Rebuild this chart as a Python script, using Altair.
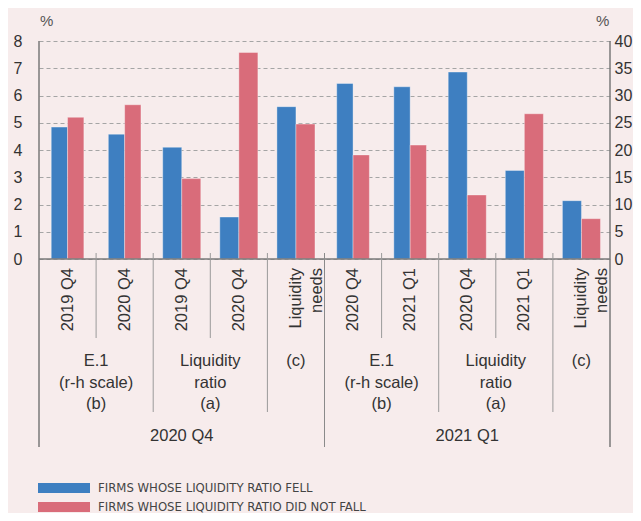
import altair as alt
import pandas as pd

# ---------------- data ----------------
ids = [f"g{i}" for i in range(10)]
sub_labels = ["2019 Q4", "2020 Q4", "2019 Q4", "2020 Q4", "Liquidity\nneeds",
              "2020 Q4", "2021 Q1", "2020 Q4", "2021 Q1", "Liquidity\nneeds"]
right_scale = [True, True, False, False, False, True, True, False, False, False]
fell = [24.2, 22.9, 4.1, 1.54, 5.59, 32.2, 31.6, 6.86, 3.25, 2.14]
not_fell = [26.0, 28.3, 2.95, 7.58, 4.95, 19.1, 20.9, 2.35, 5.33, 1.48]
series = ["FIRMS WHOSE LIQUIDITY RATIO FELL", "FIRMS WHOSE LIQUIDITY RATIO DID NOT FALL"]
colors = ["#3e7fc1", "#d96c7a"]

# category labels spanning two groups (placed at boundary = start of group id)
span_cat_text = ["E.1\n(r-h scale)\n(b)", "Liquidity\nratio\n(a)", "E.1\n(r-h scale)\n(b)", "Liquidity\nratio\n(a)"]
span_cat_at = ["g1", "g3", "g6", "g8"]
single_cat_text = ["(c)", "(c)"]
single_cat_at = ["g4", "g9"]
period_text = ["2020 Q4", "2021 Q1"]
period_at = ["g2", "g7"]
short_sep = ["g1", "g3", "g6", "g8"]
mid_sep = ["g2", "g4", "g7", "g9"]
long_sep = ["g5"]

FONT = "Liberation Sans"
NARROW = "Liberation Sans Narrow, Arial Narrow, DejaVu Sans Condensed, sans-serif"
TC = "#333333"
W, H = 571, 218

rows = []
for i, gid in enumerate(ids):
    rows.append({"id": gid, "series": series[0], "value": fell[i], "right": right_scale[i]})
    rows.append({"id": gid, "series": series[1], "value": not_fell[i], "right": right_scale[i]})
bars = pd.DataFrame(rows)
bars_r = bars[bars["right"]].drop(columns="right")
bars_l = bars[~bars["right"]].drop(columns="right")
groups = pd.DataFrame({"id": ids, "sub": sub_labels})
legend_df = pd.DataFrame({"series": series})


def X(bp=None):
    kw = {}
    if bp is not None:
        kw["bandPosition"] = bp
    return alt.X("id:N", scale=alt.Scale(domain=ids, paddingInner=0, paddingOuter=0), axis=None, **kw)


color = alt.Color("series:N", scale=alt.Scale(domain=series, range=colors), legend=None)

bar_mark = dict(stroke="white", strokeOpacity=0.35, strokeWidth=1)

bars_right = alt.Chart(bars_r).mark_bar(**bar_mark).encode(
    x=X(),
    xOffset=alt.XOffset("series:N", scale=alt.Scale(domain=series, paddingInner=0, paddingOuter=0.75)),
    y=alt.Y("value:Q", scale=alt.Scale(domain=[0, 40]),
            axis=alt.Axis(orient="right", values=list(range(0, 41, 5)), grid=False, domain=False,
                          ticks=False, labelPadding=4, title=None, labelFont=FONT,
                          labelFontSize=16, labelColor=TC)),
    color=color,
)

bars_left = alt.Chart(bars_l).mark_bar(**bar_mark).encode(
    x=X(),
    xOffset=alt.XOffset("series:N", scale=alt.Scale(domain=series, paddingInner=0, paddingOuter=0.5)),
    y=alt.Y("value:Q", scale=alt.Scale(domain=[0, 8]),
            axis=alt.Axis(orient="left", values=list(range(0, 9)), grid=True, gridDash=[4, 3],
                          gridColor="#a5a5a5", gridWidth=1, domain=False, ticks=False,
                          labelPadding=17, title=None, labelFont=FONT, labelFontSize=16,
                          labelColor=TC)),
    color=color,
)

zero_line = alt.Chart(pd.DataFrame({"id": ["g0"]})).mark_rule(color="#7a7a7a", strokeWidth=1.5).encode(
    x=alt.value(0), x2=alt.value(W), y=alt.value(H))

sep_short = alt.Chart(pd.DataFrame({"id": short_sep})).mark_rule(color="#9a9a9a", strokeWidth=1).encode(
    x=X(0), y=alt.value(212), y2=alt.value(297))
sep_mid = alt.Chart(pd.DataFrame({"id": mid_sep})).mark_rule(color="#9a9a9a", strokeWidth=1).encode(
    x=X(0), y=alt.value(212), y2=alt.value(371))
sep_long = alt.Chart(pd.DataFrame({"id": long_sep})).mark_rule(color="#8a8a8a", strokeWidth=1).encode(
    x=X(0), y=alt.value(212), y2=alt.value(406))
edge_left = alt.Chart(pd.DataFrame({"id": ["g0"]})).mark_rule(color="#7a7a7a", strokeWidth=1.5).encode(
    x=X(0), y=alt.value(0), y2=alt.value(406))
edge_right = alt.Chart(pd.DataFrame({"id": ["g9"]})).mark_rule(color="#7a7a7a", strokeWidth=1.5).encode(
    x=X(1), y=alt.value(0), y2=alt.value(406))

rot_text = alt.Chart(groups).mark_text(angle=270, align="right", baseline="middle", lineBreak="\n",
                                       lineHeight=21, fontSize=16.5, font=FONT, color=TC).encode(
    x=X(), y=alt.value(227), text="sub:N")

span_text = alt.Chart(pd.DataFrame({"id": span_cat_at, "t": span_cat_text})).mark_text(
    align="center", baseline="alphabetic", lineBreak="\n", lineHeight=21.5, fontSize=16.5,
    font=FONT, color=TC).encode(x=X(0), y=alt.value(325), text="t:N")

single_text = alt.Chart(pd.DataFrame({"id": single_cat_at, "t": single_cat_text})).mark_text(
    align="center", baseline="alphabetic", fontSize=16.5, font=FONT, color=TC).encode(
    x=X(), y=alt.value(325), text="t:N")

per_text = alt.Chart(pd.DataFrame({"id": period_at, "t": period_text})).mark_text(
    align="center", baseline="alphabetic", fontSize=16.5, font=FONT, color=TC).encode(
    x=X(), y=alt.value(400), text="t:N")

pct = alt.Chart(pd.DataFrame({"t": ["%", "%"], "side": ["l", "r"]}))
pct_l = pct.transform_filter("datum.side == 'l'").mark_text(
    fontSize=15, font=FONT, color="#555555", align="center", baseline="alphabetic").encode(
    x=alt.value(7.7), y=alt.value(-15), text="t:N")
pct_r = pct.transform_filter("datum.side == 'r'").mark_text(
    fontSize=15, font=FONT, color="#555555", align="center", baseline="alphabetic").encode(
    x=alt.value(563.7), y=alt.value(-15), text="t:N")

# custom legend
leg_y = alt.Y("series:N", scale=alt.Scale(type="point", domain=series, range=[447, 466], padding=0),
              axis=None)
leg_sym = alt.Chart(legend_df).mark_rule(strokeWidth=10).encode(
    x=alt.value(-1), x2=alt.value(51), y=leg_y, color=color)
leg_txt = alt.Chart(legend_df).mark_text(align="left", baseline="middle", font=NARROW, fontSize=13,
                                         color="#444444").encode(
    x=alt.value(59), y=leg_y, text="series:N")

chart = alt.layer(
    bars_left, bars_right, zero_line, sep_short, sep_mid, sep_long, edge_left, edge_right,
    rot_text, span_text, single_text, per_text, pct_l, pct_r, leg_sym, leg_txt,
).resolve_scale(y="independent", xOffset="independent").properties(
    width=W, height=H,
    padding={"left": 31, "top": 33, "right": 23, "bottom": 254},
    autosize=alt.AutoSizeParams(type="none"),
    background="#f7ecec",
).configure_view(stroke=None)

chart.save("out.html", embed_options={"renderer": "svg", "actions": False})
